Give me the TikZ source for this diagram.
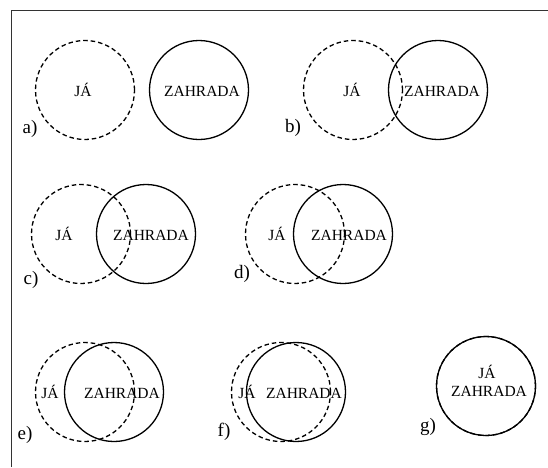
\documentclass[tikz,border=0pt]{standalone}
\usepackage{fontspec}
\setmainfont{Liberation Serif}
\begin{document}
\begin{tikzpicture}[x=1pt,y=-1pt,
  ring/.style={circle,draw=black,line width=1.3pt,minimum size=99pt,inner sep=0pt,outer sep=0pt},
  dring/.style={ring,dash pattern=on 4.5pt off 3pt},
  word/.style={anchor=base,inner sep=0pt,font=\fontsize{15.5}{17}\selectfont},
  tag/.style={anchor=base,inner sep=0pt,font=\fontsize{19}{21}\selectfont}]
  \useasboundingbox (0,0) rectangle (548,467);
  % frame along left and top edges
  \coordinate (fl) at (11.5,467);
  \coordinate (fc) at (11.5,10);
  \coordinate (fr) at (548,10);
  \draw[line width=1pt,draw=black!80] (fl) -- (fc) -- (fr);

  % a) apart
  \node[dring] (ja) at (85,90) {};
  \node[ring] (za) at (199,90) {};
  \node[word] (tja) at (83,96) {JÁ};
  \node[word] (tza) at (202,96) {ZAHRADA};
  \node[tag] (la) at (30,133) {a)};

  % b) touching
  \node[dring] (jb) at (353,90) {};
  \node[ring] (zb) at (438,90) {};
  \node[word] (tjb) at (352,96) {JÁ};
  \node[word] (tzb) at (442,96) {ZAHRADA};
  \node[tag] (lb) at (293,132) {b)};

  % c) small overlap
  \node[dring] (jc) at (81,234) {};
  \node[ring] (zc) at (146,234) {};
  \node[word] (tjc) at (64,240) {JÁ};
  \node[word] (tzc) at (151,240) {ZAHRADA};
  \node[tag] (lc) at (31,284) {c)};

  % d) half overlap
  \node[dring] (jd) at (295,234) {};
  \node[ring] (zd) at (343,234) {};
  \node[word] (tjd) at (277,240) {JÁ};
  \node[word] (tzd) at (349,240) {ZAHRADA};
  \node[tag] (ld) at (242,278) {d)};

  % e) large overlap
  \node[dring] (je) at (85,392) {};
  \node[ring] (ze) at (114,392) {};
  \node[word] (tje) at (50,398) {JÁ};
  \node[word] (tze) at (122,398) {ZAHRADA};
  \node[tag] (le) at (25,439) {e)};

  % f) almost identical
  \node[dring] (jf) at (281,392) {};
  \node[ring] (zf) at (296,392) {};
  \node[word] (tjf) at (247,398) {JÁ};
  \node[word] (tzf) at (304,398) {ZAHRADA};
  \node[tag] (lf) at (224,436) {f)};

  % g) identical
  \node[dring] (jg) at (486,386) {};
  \node[ring] (zg) at (486,386) {};
  \node[word] (tjg) at (487,378) {JÁ};
  \node[word] (tzg) at (489,396) {ZAHRADA};
  \node[tag] (lg) at (428,431) {g)};
\end{tikzpicture}
\end{document}
